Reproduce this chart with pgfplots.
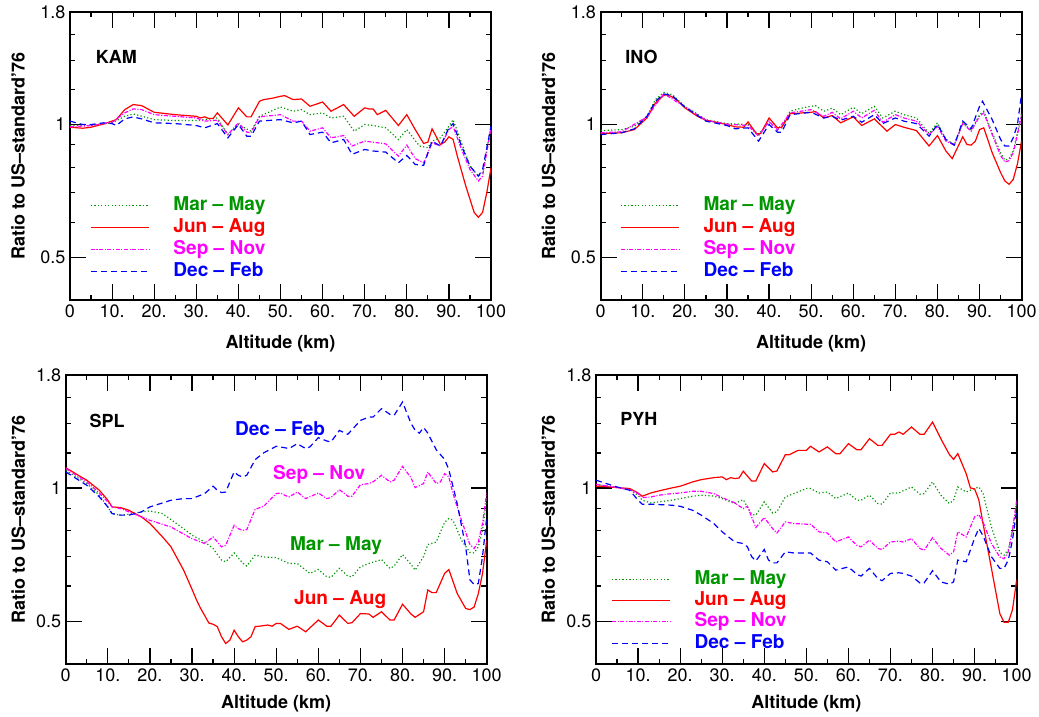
\documentclass[border=0pt]{standalone}
\usepackage{fontspec}
\setmainfont{TeX Gyre Heros}
\usepackage{pgfplots}
\pgfplotsset{compat=1.18}

\definecolor{cgreen}{RGB}{0,150,0}
\definecolor{cred}{RGB}{255,0,0}
\definecolor{cmag}{RGB}{255,0,255}
\definecolor{cblue}{RGB}{0,0,255}
\newcommand{\lblfont}{\fontsize{13.5}{16}\selectfont}
\newcommand{\legfont}{\fontsize{14.3}{17}\selectfont}

\tikzset{
  mam/.style={color=cgreen, line width=0.9pt, dash pattern=on 0.9pt off 1.7pt},
  jja/.style={color=cred, line width=0.9pt},
  son/.style={color=cmag, line width=0.9pt, dash pattern=on 3pt off 1.2pt on 0.8pt off 1.2pt},
  djf/.style={color=cblue, line width=0.9pt, dash pattern=on 4.5pt off 3pt},
  station/.style={anchor=west, inner sep=0pt, font=\lblfont\bfseries},
}

% line samples drawn in front of the legend entries, one per season
\pgfplotsset{
  mamleg/.style={legend image code/.code={\pgfsetcolor{cgreen}\draw[color=cgreen, line width=0.9pt, dash pattern=on 0.9pt off 1.7pt] (0pt,0pt) -- (43.5pt,0pt);}},
  jjaleg/.style={legend image code/.code={\pgfsetcolor{cred}\draw[color=cred, line width=0.9pt] (0pt,0pt) -- (43.5pt,0pt);}},
  sonleg/.style={legend image code/.code={\pgfsetcolor{cmag}\draw[color=cmag, line width=0.9pt, dash pattern=on 3pt off 1.2pt on 0.8pt off 1.2pt] (0pt,0pt) -- (43.5pt,0pt);}},
  djfleg/.style={legend image code/.code={\pgfsetcolor{cblue}\draw[color=cblue, line width=0.9pt, dash pattern=on 4.5pt off 3pt] (0pt,0pt) -- (43.5pt,0pt);}},
}

\pgfplotsset{
  panel/.style={
    scale only axis, width=315.75pt, height=216pt,
    xmin=0, xmax=100, ymin=0.4, ymax=1.8,
    xtick={0,10,...,100},
    xticklabels={0,10.,20.,30.,40.,50.,60.,70.,80.,90.,100},
    minor xtick={5,15,...,95},
    ytick={0.5,1,1.8}, yticklabels={0.5,1,1.8},
    minor ytick={0.6,0.7,0.8,0.9,1.2,1.4,1.6},
    tick align=inside,
    major tick length=12pt, minor tick length=4pt,
    major tick style={black, line width=0.9pt},
    minor tick style={black, line width=0.9pt},
    axis line style={line width=1.5pt},
    tick label style={font=\lblfont},
    label style={font=\lblfont\bfseries},
    xlabel={Altitude (km)},
    ylabel={Ratio to US–standard’76},
    legend cell align=left,
    legend style={draw=none, fill=none, font=\legfont\bfseries,
      anchor=north west, row sep=1pt, inner sep=0pt,
      nodes={inner xsep=0pt, inner ysep=1pt, text height=10.5pt, text depth=3pt},
      /tikz/every odd column/.append style={column sep=18pt}},
  },
}

\begin{document}
\begin{tikzpicture}

% ---------------- KAM ----------------
\begin{axis}[ymode=log, panel, /pgf/number format/assume math mode=true,
  at={(52.5pt,312.75pt)}, anchor=south west,
  xlabel style={at={(axis description cs:0.5,-0.150)}, anchor=center},
  ylabel style={at={(axis description cs:-0.1235,0.5)}, anchor=center},
  legend style={at={(0.0475,0.366)}}]
\addplot[mam, mamleg] coordinates {(0,0.995)(5,0.995)(10,1.009)(13,1.044)(15,1.057)(20,1.026)(25,1.021)(30,1.021)(35,1.035)(37.5,0.949)(40,1.000)(43,0.966)(45,1.044)(50,1.096)(53,1.072)(55,1.081)(57,1.053)(60,1.063)(62,1.035)(65,1.044)(67.5,0.966)(70,1.000)(72,0.995)(75,0.983)(78,0.925)(80,0.974)(83,0.894)(85,0.886)(86,0.917)(88,0.933)(90,0.991)(91,1.026)(93,0.909)(95,0.805)(97,0.764)(98,0.778)(100,0.991)};
\addlegendentry[text=cgreen]{Mar – May}
\addplot[jja, jjaleg] coordinates {(0,0.986)(3,0.981)(5,0.986)(8,1.003)(11,1.026)(13,1.081)(15,1.110)(17,1.104)(20,1.066)(25,1.053)(30,1.044)(31,1.035)(32,1.041)(33,1.032)(34,1.032)(35,1.063)(37.5,0.998)(40,1.091)(42,1.041)(43,1.041)(45,1.129)(46,1.139)(48,1.147)(50,1.159)(51,1.163)(53,1.139)(55,1.143)(57,1.100)(60,1.125)(62,1.072)(65,1.110)(67.5,1.044)(70,1.091)(71,1.085)(72,1.085)(73,1.053)(75,1.077)(78,0.995)(80,1.053)(82,0.974)(84,0.906)(85,0.912)(86,0.978)(88,0.901)(89,0.912)(90,0.938)(91,0.925)(92,0.848)(94,0.726)(96,0.632)(97,0.616)(98,0.632)(99,0.701)(100,0.798)};
\addlegendentry[text=cred]{Jun – Aug}
\addplot[son, sonleg] coordinates {(0,0.988)(5,0.995)(10,1.012)(13,1.063)(15,1.085)(17,1.081)(20,1.053)(25,1.044)(30,1.035)(32,1.018)(35,1.023)(37.5,0.949)(40,1.009)(42,0.961)(43,0.958)(45,1.041)(50,1.053)(53,1.018)(55,1.018)(57,0.966)(60,0.983)(62,0.933)(65,0.944)(67,0.894)(70,0.917)(72,0.912)(75,0.904)(78,0.848)(80,0.898)(82,0.837)(84,0.819)(86,0.909)(88,0.894)(90,0.974)(91,0.991)(93,0.878)(95,0.791)(97,0.745)(98,0.764)(100,0.983)};
\addlegendentry[text=cmag]{Sep – Nov}
\addplot[djf, djfleg] coordinates {(0,1.018)(3,1.000)(5,1.000)(8,1.009)(10,1.005)(11,0.995)(13,1.030)(15,1.041)(17,1.030)(20,1.009)(25,1.005)(30,0.995)(32,0.983)(35,1.005)(37.5,0.933)(40,1.000)(42,0.941)(43,0.941)(45,1.018)(50,1.026)(53,1.009)(55,1.018)(57,0.949)(60,0.961)(62,0.909)(65,0.925)(67,0.856)(70,0.878)(72,0.871)(75,0.866)(78,0.819)(80,0.851)(82,0.812)(84,0.808)(86,0.917)(88,0.894)(90,0.983)(91,1.005)(93,0.894)(95,0.805)(97,0.764)(98,0.791)(100,0.991)};
\addlegendentry[text=cblue]{Dec – Feb}
\node[station] at (axis cs:6.1,1.427) {KAM};
\end{axis}

% ---------------- INO ----------------
\begin{axis}[ymode=log, panel, /pgf/number format/assume math mode=true,
  at={(450.5pt,312.75pt)}, anchor=south west,
  xlabel style={at={(axis description cs:0.5,-0.150)}, anchor=center},
  ylabel style={at={(axis description cs:-0.124,0.5)}, anchor=center},
  legend style={at={(0.046,0.366)}}]
\addplot[mam, mamleg] coordinates {(0,0.969)(5,0.974)(8,0.991)(11,1.044)(13,1.139)(15,1.183)(17,1.169)(20,1.100)(25,1.026)(30,1.005)(35,1.000)(37.5,0.949)(40,1.012)(42,0.978)(43,0.983)(45,1.072)(48,1.091)(50,1.100)(51,1.104)(53,1.072)(55,1.089)(57,1.053)(60,1.094)(62,1.059)(65,1.100)(67,1.035)(70,1.072)(72,1.053)(75,1.035)(78,0.954)(80,1.009)(82,0.925)(84,0.901)(86,1.009)(88,0.971)(90,1.053)(91,1.072)(93,0.958)(95,0.863)(96,0.830)(97,0.836)(98,0.871)(99,0.958)(100,1.063)};
\addlegendentry[text=cgreen]{Mar – May}
\addplot[jja, jjaleg] coordinates {(0,0.954)(5,0.958)(8,0.974)(11,1.035)(13,1.119)(15,1.165)(16,1.169)(18,1.139)(20,1.091)(23,1.044)(25,1.023)(30,1.000)(32,0.988)(34,0.986)(35,1.014)(37,0.953)(38,0.954)(40,1.035)(42,0.983)(43,0.986)(45,1.059)(46,1.059)(48,1.063)(50,1.066)(51,1.070)(53,1.035)(55,1.048)(57,1.009)(60,1.041)(62,0.995)(65,1.030)(68,0.966)(70,1.000)(72,0.986)(75,0.969)(78,0.894)(80,0.944)(82,0.871)(83.5,0.837)(86,0.938)(87,0.901)(88,0.898)(89,0.917)(90,0.974)(91,0.983)(93,0.863)(95,0.778)(96,0.745)(97,0.732)(98,0.751)(99,0.815)(100,0.920)};
\addlegendentry[text=cred]{Jun – Aug}
\addplot[son, sonleg] coordinates {(0,0.958)(5,0.963)(11,1.041)(15,1.175)(20,1.096)(25,1.023)(30,1.002)(35,0.995)(37.5,0.941)(40,1.018)(42,0.971)(45,1.063)(50,1.081)(53,1.044)(55,1.066)(57,1.030)(60,1.072)(62,1.035)(65,1.077)(67,1.012)(70,1.053)(72,1.035)(75,1.018)(78,0.949)(80,0.991)(82,0.917)(84,0.898)(86,1.005)(88,0.966)(90,1.044)(91,1.063)(93,0.949)(95,0.851)(96,0.822)(97,0.828)(98,0.863)(99,0.949)(100,1.053)};
\addlegendentry[text=cmag]{Sep – Nov}
\addplot[djf, djfleg] coordinates {(0,0.949)(5,0.958)(8,0.978)(11,1.044)(13,1.129)(15,1.173)(17,1.163)(20,1.096)(25,1.018)(30,0.995)(32,0.978)(35,0.983)(37.5,0.917)(40,1.000)(42,0.961)(43,0.961)(45,1.053)(50,1.066)(53,1.035)(55,1.044)(57,1.023)(60,1.044)(62,1.012)(65,1.053)(67,1.005)(70,1.035)(72,1.018)(75,1.005)(78,0.941)(80,1.000)(82,0.925)(84,0.898)(86,1.018)(88,0.978)(90,1.100)(90.7,1.129)(93,1.026)(95,0.925)(96,0.894)(97,0.894)(98,0.933)(99,1.000)(100,1.180)};
\addlegendentry[text=cblue]{Dec – Feb}
\node[station] at (axis cs:5.8,1.427) {INO};
\end{axis}

% ---------------- SPL ----------------
\begin{axis}[ymode=log, panel, /pgf/number format/assume math mode=true,
  at={(49.3pt,39.75pt)}, anchor=south west, height=216.75pt,
  xlabel style={at={(axis description cs:0.5,-0.136)}, anchor=center},
  ylabel style={at={(axis description cs:-0.1127,0.5)}, anchor=center}]
\addplot[mam] coordinates {(0,1.096)(5,1.023)(8,0.963)(10,0.906)(11,0.875)(13,0.868)(15,0.872)(18,0.883)(20,0.887)(23,0.875)(25,0.848)(28,0.809)(30,0.782)(33,0.755)(35,0.730)(37,0.687)(38,0.681)(40,0.713)(42,0.677)(43,0.666)(45,0.705)(47,0.698)(50,0.696)(53,0.675)(55,0.675)(58,0.641)(60,0.654)(62,0.630)(63,0.628)(65,0.658)(67,0.632)(68,0.630)(70,0.663)(72,0.675)(75,0.689)(77,0.658)(78,0.666)(80,0.707)(82,0.672)(83,0.652)(85,0.700)(86,0.745)(88,0.755)(90,0.836)(91,0.853)(92,0.845)(94,0.762)(96,0.715)(97,0.713)(98,0.736)(99,0.802)(100,0.950)};
\addplot[jja] coordinates {(0,1.111)(3,1.068)(5,1.041)(8,0.988)(10,0.938)(11,0.906)(13,0.903)(15,0.890)(18,0.860)(20,0.831)(23,0.775)(25,0.736)(28,0.652)(30,0.590)(31,0.560)(32,0.535)(33,0.515)(34,0.495)(35,0.492)(36,0.486)(37,0.461)(38,0.445)(39,0.453)(40,0.477)(41,0.461)(42,0.449)(43,0.453)(44,0.461)(45,0.486)(46,0.487)(48,0.490)(49,0.487)(50,0.494)(51,0.494)(53,0.479)(55,0.487)(57,0.473)(60,0.503)(62,0.487)(63,0.487)(65,0.516)(67,0.494)(68,0.496)(70,0.520)(72,0.519)(73,0.510)(75,0.525)(77,0.503)(78,0.503)(80,0.546)(82,0.519)(83,0.510)(85,0.525)(86,0.588)(87,0.580)(88,0.580)(90,0.641)(91,0.654)(93,0.577)(95,0.534)(96,0.531)(97,0.538)(98,0.577)(99,0.641)(100,0.762)};
\addplot[son] coordinates {(0,1.106)(5,1.032)(8,0.974)(10,0.930)(11,0.906)(13,0.898)(15,0.883)(18,0.860)(20,0.845)(25,0.816)(30,0.768)(33,0.749)(35,0.775)(37,0.736)(38,0.742)(40,0.823)(41,0.809)(42,0.802)(43,0.805)(45,0.895)(47,0.909)(50,0.971)(51,0.974)(52,0.963)(53,0.954)(55,0.979)(57,0.946)(60,0.974)(62,0.946)(63,0.951)(65,0.991)(67,0.958)(68,0.958)(70,1.017)(72,1.023)(73,1.032)(75,1.068)(77,1.032)(78,1.041)(80,1.119)(82,1.055)(83,1.002)(85,1.023)(86,1.087)(88,1.023)(89,1.032)(90,1.077)(91,1.059)(92,0.971)(94,0.845)(96,0.745)(97,0.730)(98,0.755)(99,0.831)(100,0.975)};
\addplot[djf] coordinates {(0,1.087)(5,1.014)(8,0.954)(10,0.906)(11,0.875)(13,0.868)(15,0.868)(18,0.883)(20,0.906)(23,0.925)(25,0.938)(28,0.946)(30,0.946)(33,0.971)(35,1.009)(36,0.988)(37,0.976)(38,0.979)(40,1.087)(41,1.068)(42,1.059)(43,1.068)(45,1.159)(47,1.200)(50,1.242)(52,1.233)(53,1.227)(55,1.259)(57,1.227)(58,1.238)(60,1.299)(62,1.277)(63,1.270)(65,1.349)(67,1.322)(70,1.421)(72,1.446)(73,1.446)(75,1.511)(77,1.467)(78,1.459)(80,1.564)(82,1.400)(83,1.350)(84,1.330)(85,1.370)(86,1.330)(88,1.220)(90,1.160)(91,1.100)(93,0.920)(95,0.736)(96,0.620)(97,0.605)(98,0.608)(99,0.700)(100,0.860)};
\node[station] at (axis cs:5.6,1.42) {SPL};
\node[font=\legfont\bfseries, text=cblue] at (axis cs:50.9,1.364) {Dec – Feb};
\node[font=\legfont\bfseries, text=cmag] at (axis cs:60.2,1.074) {Sep – Nov};
\node[font=\legfont\bfseries, text=cgreen] at (axis cs:64.2,0.742) {Mar – May};
\node[font=\legfont\bfseries, text=cred] at (axis cs:65.2,0.558) {Jun – Aug};
\end{axis}

% ---------------- PYH ----------------
\begin{axis}[ymode=log, panel, /pgf/number format/assume math mode=true,
  at={(447pt,39.75pt)}, anchor=south west, height=216.75pt, width=315.5pt,
  xlabel style={at={(axis description cs:0.5,-0.136)}, anchor=center},
  ylabel style={at={(axis description cs:-0.1133,0.5)}, anchor=center},
  legend style={at={(0.036,0.33)}, row sep=0.5pt}]
\addplot[mam, mamleg] coordinates {(0,1.019)(5,1.002)(8,0.991)(10,0.963)(11,0.938)(13,0.925)(15,0.930)(18,0.938)(20,0.946)(23,0.958)(25,0.963)(28,0.958)(30,0.946)(33,0.922)(35,0.941)(37,0.872)(38,0.868)(40,0.930)(42,0.878)(43,0.883)(45,0.954)(47,0.971)(50,0.997)(51,0.997)(53,0.974)(55,0.979)(57,0.946)(60,0.974)(62,0.938)(63,0.938)(65,0.963)(67,0.922)(68,0.919)(70,0.974)(72,0.974)(73,0.985)(75,1.005)(77,0.968)(78,0.971)(80,1.032)(82,0.963)(84,0.922)(85,0.938)(86,1.005)(88,0.979)(90,0.997)(91,1.005)(92,0.974)(94,0.816)(96,0.715)(97,0.705)(98,0.725)(99,0.802)(100,0.920)};
\addlegendentry[text=cgreen]{Mar – May}
\addplot[jja, jjaleg] coordinates {(0,1.009)(1,1.009)(5,1.002)(8,0.997)(10,0.974)(11,0.958)(13,0.974)(15,0.985)(18,1.000)(20,1.009)(23,1.032)(25,1.044)(28,1.055)(30,1.059)(31,1.044)(32,1.055)(33,1.050)(34,1.053)(35,1.091)(37,1.037)(38,1.037)(40,1.135)(42,1.087)(43,1.092)(45,1.189)(46,1.189)(48,1.216)(50,1.216)(51,1.242)(53,1.206)(55,1.238)(57,1.195)(58,1.195)(60,1.259)(62,1.220)(63,1.220)(65,1.292)(67,1.248)(68,1.248)(70,1.322)(71,1.322)(72,1.338)(73,1.322)(75,1.373)(77,1.322)(78,1.322)(80,1.409)(82,1.290)(84,1.190)(85,1.160)(86,1.196)(88,1.077)(89,1.000)(90,0.995)(91,0.940)(92,0.831)(94,0.658)(96,0.520)(97,0.497)(98,0.497)(99,0.530)(100,0.620)};
\addlegendentry[text=cred]{Jun – Aug}
\addplot[son, sonleg] coordinates {(0,1.019)(5,1.002)(8,0.991)(10,0.971)(11,0.951)(13,0.954)(15,0.963)(18,0.971)(20,0.974)(23,0.983)(25,0.983)(28,0.971)(30,0.951)(33,0.925)(35,0.898)(36,0.909)(37,0.860)(38,0.814)(40,0.857)(42,0.809)(43,0.791)(45,0.838)(47,0.831)(50,0.828)(51,0.828)(53,0.796)(55,0.791)(57,0.755)(60,0.775)(62,0.742)(63,0.736)(65,0.762)(67,0.730)(68,0.726)(70,0.755)(72,0.758)(73,0.755)(75,0.768)(77,0.730)(78,0.723)(80,0.772)(82,0.730)(84,0.705)(85,0.717)(86,0.796)(88,0.775)(90,0.860)(91,0.870)(92,0.838)(94,0.749)(96,0.698)(97,0.692)(98,0.717)(99,0.802)(100,0.938)};
\addlegendentry[text=cmag]{Sep – Nov}
\addplot[djf, djfleg] coordinates {(0,1.041)(3,1.019)(5,1.005)(8,0.988)(10,0.938)(11,0.919)(13,0.919)(15,0.917)(18,0.914)(20,0.909)(23,0.890)(25,0.868)(28,0.831)(30,0.796)(33,0.755)(35,0.749)(36,0.736)(37,0.699)(38,0.684)(40,0.726)(41,0.687)(42,0.677)(43,0.677)(45,0.717)(47,0.713)(50,0.713)(51,0.713)(53,0.687)(55,0.681)(57,0.652)(60,0.663)(62,0.638)(63,0.632)(65,0.658)(67,0.624)(68,0.617)(70,0.641)(72,0.643)(73,0.641)(75,0.632)(77,0.610)(78,0.610)(80,0.650)(82,0.613)(84,0.606)(85,0.613)(86,0.687)(88,0.681)(90,0.770)(91,0.810)(92,0.780)(94,0.699)(96,0.658)(97,0.658)(98,0.687)(99,0.762)(100,0.890)};
\addlegendentry[text=cblue]{Dec – Feb}
\node[station] at (axis cs:5.7,1.43) {PYH};
\end{axis}

\pgfresetboundingbox
\path (0pt,0pt) rectangle (779.25pt,537.75pt);
\end{tikzpicture}
\end{document}
